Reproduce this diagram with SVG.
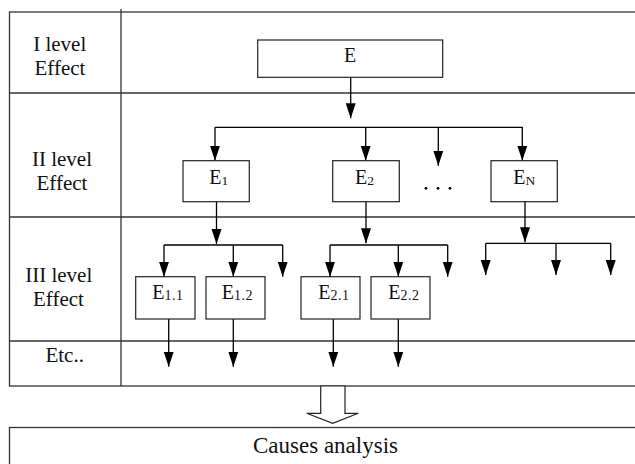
<svg xmlns="http://www.w3.org/2000/svg" width="635" height="464" viewBox="0 0 635 464">
<style>
.grid{stroke:#333;stroke-width:1.3;fill:none}
.box{fill:#fff;stroke:#222;stroke-width:1.2}
.lbl{font-family:"Liberation Serif","Times New Roman",serif;font-size:21px;fill:#111;text-anchor:middle}
.nt{font-family:"Liberation Serif","Times New Roman",serif;font-size:20px;fill:#111}
.sub{font-size:13.5px}
.sub2{font-size:14px;letter-spacing:0.5px}
.con{stroke:#000;stroke-width:1.3;fill:none}
.arr{marker-end:url(#ah)}
</style>
<defs>
<marker id="ah" markerUnits="userSpaceOnUse" markerWidth="15" markerHeight="11" refX="15" refY="5.5" orient="auto">
<path d="M0,0.5 L15,5.5 L0,10.5 z" fill="#000"/>
</marker>
</defs>
<g id="table">
<rect class="grid" x="9.5" y="12" width="640" height="374"/>
<line class="grid" x1="121" y1="9" x2="121" y2="386"/>
<line class="grid" x1="9.5" y1="93" x2="640" y2="93"/>
<line class="grid" x1="9.5" y1="217" x2="640" y2="217"/>
<line class="grid" x1="9.5" y1="341" x2="640" y2="341"/>
<text class="lbl" x="59.7" y="50.7">I level</text>
<text class="lbl" x="60" y="75">Effect</text>
<text class="lbl" x="62" y="165.7">II level</text>
<text class="lbl" x="62" y="189.5">Effect</text>
<text class="lbl" x="58.7" y="281.7">III level</text>
<text class="lbl" x="58.5" y="306.3">Effect</text>
<text class="lbl" x="64.7" y="361.7">Etc..</text>
</g>
<g id="connectors">
<line class="con arr" x1="350.7" y1="77.3" x2="350.7" y2="118.3"/>
<line class="con" x1="215" y1="127.3" x2="522.7" y2="127.3"/>
<line class="con arr" x1="215" y1="127.3" x2="215" y2="160.7"/>
<line class="con arr" x1="365.7" y1="127.3" x2="365.7" y2="160.7"/>
<line class="con arr" x1="438.3" y1="127.3" x2="438.3" y2="165.7"/>
<line class="con arr" x1="522.3" y1="127.3" x2="522.3" y2="160.7"/>
<line class="con arr" x1="216.5" y1="201.7" x2="216.5" y2="244"/>
<line class="con" x1="164" y1="245" x2="282.7" y2="245"/>
<line class="con arr" x1="164" y1="245" x2="164" y2="276.7"/>
<line class="con arr" x1="233.3" y1="245" x2="233.3" y2="276.7"/>
<line class="con arr" x1="282.7" y1="245" x2="282.7" y2="276.7"/>
<line class="con arr" x1="366" y1="201.7" x2="366" y2="243.3"/>
<line class="con" x1="330" y1="245" x2="447.7" y2="245"/>
<line class="con arr" x1="330" y1="245" x2="330" y2="276.7"/>
<line class="con arr" x1="398.3" y1="245" x2="398.3" y2="276.7"/>
<line class="con arr" x1="447.7" y1="245" x2="447.7" y2="276.7"/>
<line class="con arr" x1="525" y1="201.7" x2="525" y2="242.3"/>
<line class="con" x1="485.7" y1="243.3" x2="610.7" y2="243.3"/>
<line class="con arr" x1="485.7" y1="243.3" x2="485.7" y2="275"/>
<line class="con arr" x1="556" y1="243.3" x2="556" y2="275"/>
<line class="con arr" x1="610.7" y1="243.3" x2="610.7" y2="275"/>
<line class="con arr" x1="168.7" y1="319" x2="168.7" y2="366.7"/>
<line class="con arr" x1="233.3" y1="319" x2="233.3" y2="366.7"/>
<line class="con arr" x1="333.3" y1="319" x2="333.3" y2="366.7"/>
<line class="con arr" x1="398.3" y1="319" x2="398.3" y2="366.7"/>
<polygon points="320.7,386 320.7,413.3 306.7,413.3 332.7,423.3 358.3,413.3 345,413.3 345,386" fill="#fff" stroke="#222" stroke-width="1.2"/>
</g>
<g id="dots" fill="#000">
<circle cx="426" cy="188.3" r="1.4"/>
<circle cx="438" cy="188.3" r="1.4"/>
<circle cx="450" cy="188.3" r="1.4"/>
</g>
<g id="E">
<rect class="box" x="257.7" y="40" width="185" height="37.3"/>
<text class="nt" x="350" y="62.3" text-anchor="middle">E</text>
</g>
<g id="E1">
<rect class="box" x="183" y="160.7" width="66.3" height="41"/>
<text class="nt" x="209.3" y="184.3">E<tspan class="sub" dy="1">1</tspan></text>
</g>
<g id="E2">
<rect class="box" x="332.7" y="160.7" width="66.6" height="41"/>
<text class="nt" x="355" y="184.3">E<tspan class="sub" dy="1">2</tspan></text>
</g>
<g id="EN">
<rect class="box" x="491" y="160.7" width="66.3" height="41"/>
<text class="nt" x="513.3" y="184.3">E<tspan class="sub" dy="1">N</tspan></text>
</g>
<g id="E1.1">
<rect class="box" x="135.7" y="276.7" width="59.3" height="42.3"/>
<text class="nt" x="152.3" y="298.5">E<tspan class="sub2" dy="1">1.1</tspan></text>
</g>
<g id="E1.2">
<rect class="box" x="206" y="276.7" width="59" height="42.3"/>
<text class="nt" x="221.7" y="298.5">E<tspan class="sub2" dy="1">1.2</tspan></text>
</g>
<g id="E2.1">
<rect class="box" x="301" y="276.7" width="59" height="42.3"/>
<text class="nt" x="318.3" y="298.5">E<tspan class="sub2" dy="1">2.1</tspan></text>
</g>
<g id="E2.2">
<rect class="box" x="371" y="276.7" width="59" height="42.3"/>
<text class="nt" x="388.3" y="298.5">E<tspan class="sub2" dy="1">2.2</tspan></text>
</g>
<g id="causes">
<rect class="grid" x="9.5" y="427.5" width="640" height="60"/>
<text class="lbl" x="325.5" y="453.3" style="font-size:23px">Causes analysis</text>
</g>
</svg>
